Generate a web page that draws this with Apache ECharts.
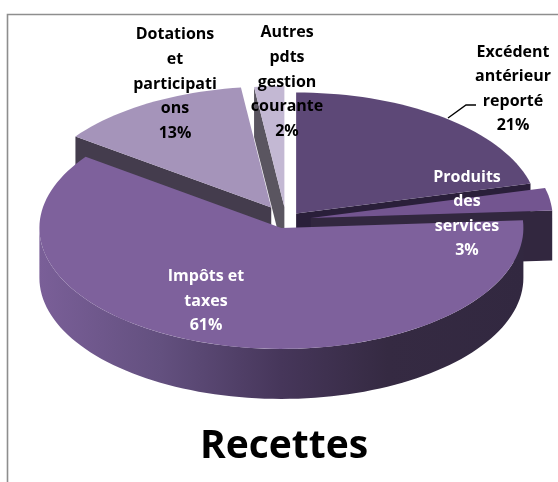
<!DOCTYPE html>
<html>
<head>
<meta charset="utf-8">
<style>html,body{margin:0;padding:0;background:#fff}#chart{width:558px;height:482px}</style>
<script src="https://cdn.jsdelivr.net/npm/echarts@6/dist/echarts.min.js"></script>
</head>
<body>
<div id="chart"></div>
<script>
const categories = ['Excédent\nantérieur\nreporté', 'Produits\ndes\nservices', 'Impôts et\ntaxes', 'Dotations\net\nparticipati\nons', 'Autres\npdts\ngestion\ncourante'];
const values = [21, 3, 61, 13, 2];
const explode = [16.5, 25, 16.5, 29, 26];
const topColors = ['#5D4877', '#735590', '#7E619C', '#A594BA', '#C3B8D3'];
const sideColors = ['#2A1F3A', '#32273F', '#352A42', '#443C4D', '#5A5560'];
const labelColors = ['#000', '#fff', '#fff', '#000', '#000'];
const labelX = [513, 467, 206, 175, 287];
const labelY = [89, 214, 301, 84, 82];
const drawOrder = [3, 4, 0, 1, 2];

const CX = 286, CY = 220, RX = 242, RY = 121, DEPTH = 50;
const total = values.reduce((a, b) => a + b, 0);
const rad = d => d * Math.PI / 180;

// clockwise angles from the top, in degrees
const starts = [];
values.reduce((acc, v, i) => { starts[i] = acc; return acc + v / total * 360; }, 0);

function renderSlice(params, api) {
  const i = api.value(0);
  const a0 = starts[i], a1 = a0 + values[i] / total * 360, mid = (a0 + a1) / 2;
  const ox = CX + explode[i] * Math.sin(rad(mid));
  const oy = CY - explode[i] * Math.cos(rad(mid)) * RY / RX;
  const pt = (a, dy) => api.coord([ox + RX * Math.sin(rad(a)), oy - RY * Math.cos(rad(a)) + (dy || 0)]);
  const apex = dy => api.coord([ox, oy + (dy || 0)]);
  const arc = (from, to, dy) => {
    const out = [];
    const n = Math.max(2, Math.ceil((to - from) / 2));
    for (let k = 0; k <= n; k++) out.push(pt(from + (to - from) * k / n, dy));
    return out;
  };
  const kids = [];
  const wall = (a) => kids.push({ type: 'polygon', shape: { points: [apex(), pt(a), pt(a, DEPTH), apex(DEPTH)] }, style: { fill: sideColors[i] } });
  // radial walls that face the viewer
  if (Math.cos(rad(a0 - 90)) < -0.01) wall(a0);
  if (Math.cos(rad(a1 + 90)) < -0.01) wall(a1);
  // outer rim, front half only
  const r0 = Math.max(a0, 90), r1 = Math.min(a1, 270);
  if (r1 > r0) {
    const fill = i === 2
      ? new echarts.graphic.LinearGradient(0, 0, 1, 0, [
          { offset: 0, color: '#7A5F98' }, { offset: 0.25, color: '#63507F' },
          { offset: 0.5, color: '#46365A' }, { offset: 0.72, color: '#352A42' }, { offset: 1, color: '#322840' }])
      : sideColors[i];
    kids.push({ type: 'polygon', shape: { points: arc(r0, r1, 0).concat(arc(r0, r1, DEPTH).reverse()) }, style: { fill } });
  }
  kids.push({ type: 'polygon', shape: { points: [apex()].concat(arc(a0, a1, 0)) }, style: { fill: topColors[i] } });
  return { type: 'group', children: kids };
}

function renderLabel(params, api) {
  const i = api.value(0);
  const p = api.coord([labelX[i], labelY[i]]);
  return {
    type: 'text', x: p[0], y: p[1],
    style: {
      text: categories[i] + '\n' + values[i] + '%', fill: labelColors[i],
      font: 'bold 16px "Open Sans", sans-serif', lineHeight: 24.6, align: 'center', verticalAlign: 'middle'
    }
  };
}

const chart = echarts.init(document.getElementById('chart'));
chart.setOption({
  animation: false,
  backgroundColor: '#fff',
  title: {
    text: 'Recettes', left: 279, top: 422, textAlign: 'center',
    textStyle: { color: '#000', fontFamily: '"Open Sans", sans-serif', fontWeight: 'bold', fontSize: 39 }
  },
  grid: { left: 0, right: 0, top: 0, bottom: 0 },
  xAxis: { type: 'value', min: 0, max: 558, show: false },
  yAxis: { type: 'value', min: 0, max: 482, inverse: true, show: false },
  graphic: [
    { type: 'polyline', shape: { points: [[7.5, 482], [7.5, 14.5], [558, 14.5]] }, style: { stroke: '#8E8E8E', lineWidth: 1.6, fill: 'none' } },
    { type: 'polyline', z: 10, shape: { points: [[448, 118], [466, 105], [476, 105]] }, style: { stroke: '#000', lineWidth: 1.4, fill: 'none' } }
  ],
  series: [
    { type: 'custom', renderItem: renderSlice, silent: true, clip: false, data: drawOrder.map(i => [i]), z: 2 },
    { type: 'custom', renderItem: renderLabel, silent: true, clip: false, data: values.map((v, i) => [i]), z: 5 }
  ]
});
</script>
</body>
</html>
